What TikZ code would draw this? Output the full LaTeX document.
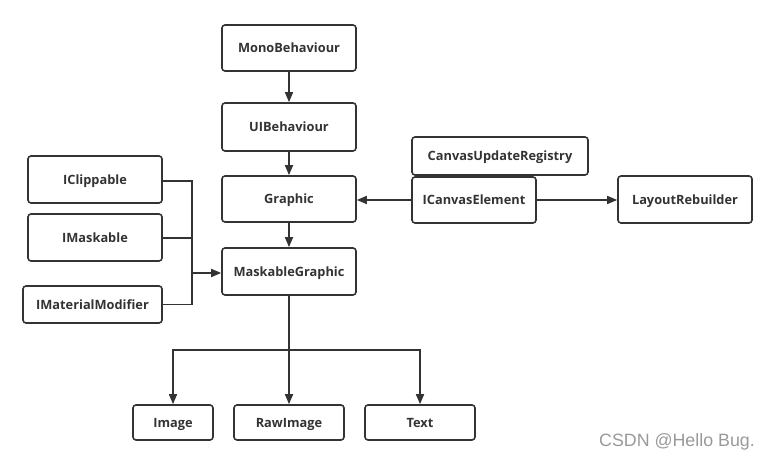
\documentclass[tikz,border=0pt]{standalone}
\usepackage{fontspec}
\setmainfont{Open Sans}
\newfontfamily\wmfont{Liberation Sans}
\usetikzlibrary{arrows.meta}
\definecolor{ln}{HTML}{333333}
\tikzset{
  box/.style={draw=ln, line width=1.6pt, rounded corners=3pt, inner sep=0pt, text height=9.2pt, text depth=0pt, font=\fontsize{12.8}{14}\selectfont\bfseries, text=ln},
  conn/.style={draw=ln, line width=1.6pt},
  arr/.style={conn, -{Triangle[length=10pt,width=8pt]}}
}
\newcommand{\bx}[6]{\node[box, minimum width=#4-#2, minimum height=#5-#3] (#1) at ({(#2+#4)/2},{(#3+#5)/2}) {#6};}
\begin{document}
\begin{tikzpicture}[x=1pt,y=-1pt]
\useasboundingbox (0,0) rectangle (772,462);
\bx{mono}{222}{25}{356}{71}{MonoBehaviour}
\bx{uib}{222}{103}{356}{151}{UIBehaviour}
\bx{gra}{222}{176}{356}{222}{Graphic}
\bx{mg}{222}{248}{356}{295}{MaskableGraphic}
\bx{icl}{28}{156}{162}{203}{IClippable}
\bx{ima}{28}{214}{162}{261}{IMaskable}
\bx{imm}{23}{286}{162}{323}{IMaterialModifier}
\bx{cur}{412}{137}{588}{175}{CanvasUpdateRegistry}
\bx{ice}{412}{177}{536}{223}{ICanvasElement}
\bx{lr}{618}{176}{752}{223}{LayoutRebuilder}
\bx{img}{133}{405}{213}{440}{Image}
\bx{raw}{234}{405}{344}{440}{RawImage}
\bx{txt}{365}{405}{475}{440}{Text}
\coordinate (busx) at (192,0);
\draw[arr] (mono) -- (uib);
\draw[arr] (uib) -- (gra);
\draw[arr] (gra) -- (mg);
\draw[arr] (ice.west |- 0,200) -- (gra.east |- 0,200);
\draw[arr] (ice.east |- 0,200) -- (lr.west |- 0,200);
\draw[conn] (icl.east |- 0,181) -| (busx |- imm.east) -- (imm.east);
\draw[conn] (ima.east |- 0,238) -- (busx |- 0,238);
\draw[arr] (busx |- 0,273) -- (mg.west |- 0,273);
\coordinate (hb) at (0,350);
\draw[arr] (mg.south) -- (raw.north);
\draw[arr] (mg.south |- hb) -| (img.north -| 173,0);
\draw[arr] (mg.south |- hb) -| (txt.north -| 420,0);
\node[font=\wmfont\fontsize{17.8}{20}\selectfont, text=gray!80, anchor=center] (wm) at (677,442) {CSDN @Hello Bug.};
\end{tikzpicture}
\end{document}
